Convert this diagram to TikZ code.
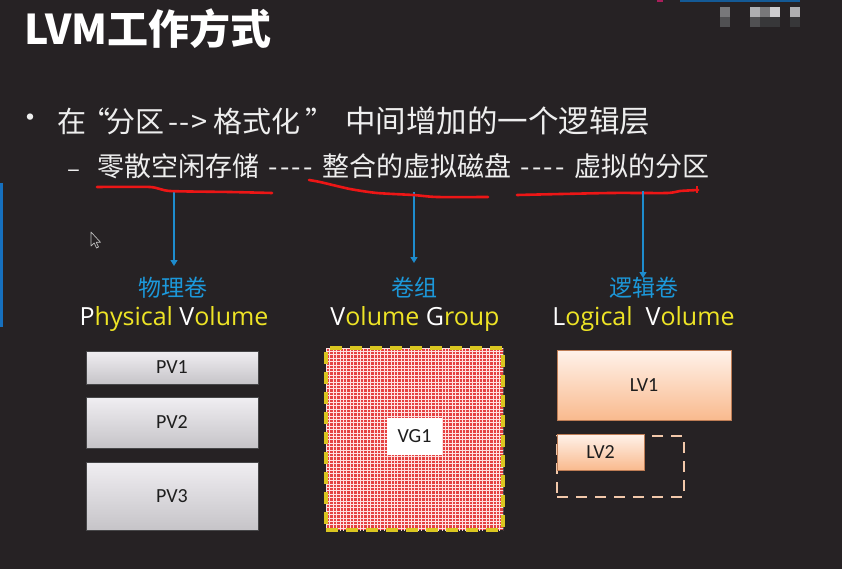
\documentclass[tikz,border=0pt]{standalone}
\usepackage{fontspec}
\setmainfont{Noto Sans CJK SC}
\newfontfamily\cjkfont{Noto Sans CJK SC}
\newfontfamily\labelfont{Open Sans}
\newfontfamily\boxfont{Carlito}
\usetikzlibrary{arrows.meta,patterns}

% white grid drawn over the red volume-group fill
\pgfdeclarepatternformonly{vggrid}{\pgfqpoint{-1pt}{-1pt}}{\pgfqpoint{4.4pt}{4.4pt}}{\pgfqpoint{3.4pt}{3.4pt}}{%
  \pgfsetlinewidth{0.9pt}%
  \pgfpathmoveto{\pgfqpoint{0pt}{-1pt}}\pgfpathlineto{\pgfqpoint{0pt}{4.4pt}}%
  \pgfpathmoveto{\pgfqpoint{-1pt}{0pt}}\pgfpathlineto{\pgfqpoint{4.4pt}{0pt}}%
  \pgfusepath{stroke}}

\definecolor{bg}{RGB}{38,34,36}
\definecolor{txt}{RGB}{238,238,238}
\definecolor{arrowblue}{RGB}{30,140,205}
\definecolor{lblblue}{RGB}{28,152,218}
\definecolor{lblyellow}{RGB}{238,228,38}
\definecolor{pvtop}{RGB}{240,238,242}
\definecolor{pvbot}{RGB}{198,196,200}
\definecolor{pvedge}{RGB}{70,70,72}
\definecolor{boxtext}{RGB}{30,30,30}
\definecolor{lvtop}{RGB}{255,242,234}
\definecolor{lvbot}{RGB}{249,186,142}
\definecolor{lvedge}{RGB}{190,125,85}
\definecolor{lvfree}{RGB}{242,200,170}
\definecolor{vgred}{RGB}{228,66,66}
\definecolor{vggridc}{RGB}{255,225,225}
\definecolor{vgedge}{RGB}{218,198,32}
\definecolor{notered}{RGB}{236,22,22}
\definecolor{sidebar}{RGB}{22,112,190}
\definecolor{cursorline}{RGB}{190,190,190}
\definecolor{badgeA}{RGB}{120,120,122}
\definecolor{badgeB}{RGB}{175,175,177}
\definecolor{badgeC}{RGB}{205,205,207}
\definecolor{badgeD}{RGB}{80,80,82}
\definecolor{badgeE}{RGB}{55,55,57}
\definecolor{stripeblue}{RGB}{20,90,150}
\definecolor{stripepink}{RGB}{170,30,90}

\tikzset{
  pvbox/.style={draw=pvedge, line width=0.8pt, top color=pvtop, bottom color=pvbot,
    minimum width=172pt, inner sep=0pt, text=boxtext,
    font=\boxfont\fontsize{20}{24}\selectfont},
  lvbox/.style={draw=lvedge, line width=0.8pt, top color=lvtop, bottom color=lvbot,
    inner sep=0pt, text=boxtext, font=\boxfont\fontsize{20}{24}\selectfont},
  cnlabel/.style={text=lblblue, inner sep=0pt, font=\cjkfont\fontsize{23}{27}\selectfont},
  enlabel/.style={text=lblyellow, inner sep=0pt, anchor=base,
    font=\labelfont\fontsize{25}{30}\selectfont},
  pointer/.style={draw=arrowblue, line width=1.4pt, -{Triangle[length=6pt,width=7pt]}},
  note/.style={draw=notered, line width=2.6pt, line cap=round, line join=round},
  bodytext/.style={text=txt, inner sep=0pt, anchor=west},
}
\newcommand{\wl}[1]{\textcolor{white}{#1}}
\newcommand{\dashes}{-\kern2pt-\kern2pt-\kern2pt-}

\begin{document}
\begin{tikzpicture}[x=1pt, y=-1pt]
  \fill[bg] (0,0) rectangle (842,569);
  \useasboundingbox (0,0) rectangle (842,569);

  % thin side bar and blurred badge
  \fill[sidebar] (0,183) rectangle (2.7,327);
  \fill[badgeA] (720,7) rectangle (730,17);
  \fill[badgeB] (750,7) rectangle (760,17);
  \fill[badgeA] (760,7) rectangle (770,17);
  \fill[badgeC] (770,7) rectangle (780,17);
  \fill[badgeB] (790,7) rectangle (800,17);
  \fill[badgeD] (720,17) rectangle (730,27);
  \fill[badgeD] (750,17) rectangle (760,27);
  \fill[badgeE] (760,17) rectangle (780,27);
  \fill[badgeE] (790,17) rectangle (800,27);
  \fill[stripeblue] (680,0) rectangle (800,2);
  \fill[stripepink] (657,0) rectangle (663,2);

  % title
  \node[anchor=west, text=white, inner sep=0pt,
        font=\cjkfont\bfseries\fontsize{41}{48}\selectfont] (title) at (24,29) {LVM工作方式};

  % bullet lines
  \node[text=txt, inner sep=0pt, font=\cjkfont\fontsize{30}{34}\selectfont] (dot) at (30,121) {•};
  \node[bodytext, font=\cjkfont\fontsize{29}{34}\selectfont] (line1) at (57,121)
    {在\makebox[20pt][r]{“\kern-4pt}分区\makebox[49pt][l]{\kern4pt-\kern1.5pt-\kern1.5pt>}格式化\makebox[45pt][l]{\kern5pt”}{\fontsize{30.5}{34}\selectfont 中间增加的一个逻辑层}};
  \node[text=txt, inner sep=0pt, font=\cjkfont\fontsize{24}{28}\selectfont] (dash) at (74,174) {–};
  \node[bodytext, font=\cjkfont\fontsize{27}{32}\selectfont] (line2) at (97,166)
    {零散空闲存储\makebox[63pt]{\dashes}整合的虚拟磁盘\makebox[63pt]{\dashes}虚拟的分区};

  % arrows down to the three layers
  \coordinate (a1) at (174,190);
  \coordinate (b1) at (174,266);
  \coordinate (a2) at (414,192);
  \coordinate (b2) at (414,263);
  \coordinate (a3) at (643,191);
  \coordinate (b3) at (643,278);
  \draw[pointer] (a1) -- (b1);
  \draw[pointer] (a2) -- (b2);

  % hand-drawn underlines
  \draw[note] plot[smooth, tension=0.4] coordinates
    {(97,187) (150,187) (170,191) (230,192) (272,193)};
  \draw[note] plot[smooth, tension=0.4] coordinates
    {(309,180) (320,182) (350,189) (377,193) (413,195) (437,197) (488,197)};
  \draw[note] plot[smooth, tension=0.4] coordinates
    {(517,195) (610,193) (667,193) (680,191) (698,190)};
  \draw[notered, line width=1.4pt] (697,186.5) -- (697,193);

  % layer titles
  \node[cnlabel] (pvcn) at (172.5,288) {物理卷};
  \node[enlabel] (pven) at (174,325) {\wl{P}hysical \wl{V}olume};
  \node[cnlabel] (vgcn) at (414,288) {卷组};
  \node[enlabel] (vgen) at (415,325) {\wl{V}olume \wl{G}roup};
  \node[cnlabel] (lvcn) at (643.5,288) {逻辑卷};
  \node[enlabel] (lven) at (643.5,325) {\wl{L}ogical\ \ \wl{V}olume};
  \draw[pointer] (a3) -- (b3);

  % physical volumes
  \node[pvbox, minimum height=33pt] (pv1) at (172,367.5) {PV1};
  \node[pvbox, minimum height=51pt] (pv2) at (172,422.5) {PV2};
  \node[pvbox, minimum height=68pt] (pv3) at (172,496) {PV3};

  % volume group
  \node[preaction={fill=vgred}, pattern=vggrid, pattern color=vggridc,
        draw=vgedge, line width=4pt, dash pattern=on 12pt off 8pt,
        minimum width=177pt, minimum height=182pt, inner sep=0pt] (vg) at (414.5,439) {};
  \node[fill=white, minimum width=55pt, minimum height=37pt, inner sep=0pt, text=boxtext,
        font=\boxfont\fontsize{20}{24}\selectfont] (vg1) at (414.5,436.5) {VG1};

  % logical volumes
  \node[lvbox, minimum width=174pt, minimum height=70pt] (lv1) at (644,385) {LV1};
  \node[draw=lvfree, line width=2.4pt, dash pattern=on 11pt off 8pt,
        minimum width=127pt, minimum height=61pt, inner sep=0pt] (lvspace) at (620.5,466.5) {};
  \node[lvbox, minimum width=87pt, minimum height=36pt] (lv2) at (600.5,452) {LV2};

  % mouse pointer
  \draw[draw=cursorline, fill=bg, line width=0.7pt, line join=round]
    (91,232) -- (91,246) -- (94.2,243) -- (96.5,248) -- (98.5,247) -- (96.3,242.3) -- (100.5,242.3) -- cycle;
\end{tikzpicture}
\end{document}
